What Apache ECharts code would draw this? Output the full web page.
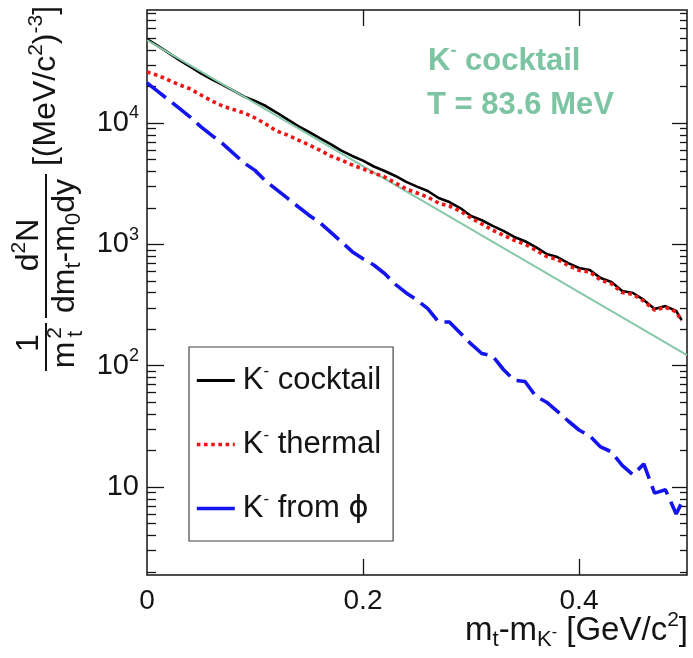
<!DOCTYPE html>
<html>
<head>
<meta charset="utf-8">
<script src="https://cdn.jsdelivr.net/npm/echarts@6/dist/echarts.min.js"></script>
<style>
  html, body { margin: 0; padding: 0; background: #fff; }
  #chart { width: 693px; height: 658px; }
</style>
</head>
<body>
<div id="chart"></div>
<script>
// m_t - m_K bin positions [GeV/c^2]
const mtBins = [
  0.00, 0.01, 0.02, 0.03, 0.04, 0.05, 0.06, 0.07, 0.08, 0.09,
  0.10, 0.11, 0.12, 0.13, 0.14, 0.15, 0.16, 0.17, 0.18, 0.19,
  0.20, 0.21, 0.22, 0.23, 0.24, 0.25, 0.26, 0.27, 0.28, 0.29,
  0.30, 0.31, 0.32, 0.33, 0.34, 0.35, 0.36, 0.37, 0.38, 0.39,
  0.40, 0.41, 0.42, 0.43, 0.44, 0.45, 0.46, 0.47, 0.48, 0.49, 0.495
];

// K- cocktail (thermal + phi feed-down)
const cocktail = [
  49200, 43200, 37800, 33000, 29200, 25600, 22900, 20600, 18500, 16500,
  15200, 13800, 12200, 10700, 9440, 8430, 7520, 6710, 5930, 5350,
  4900, 4380, 4020, 3660, 3270, 2990, 2750, 2410, 2230, 1990,
  1710, 1580, 1420, 1290, 1150, 1060, 950, 832, 785, 701,
  638, 615, 527, 489, 412, 397, 348, 293, 310, 282, 238
];

// K- thermal component
const thermal = [
  26300, 24700, 22600, 20600, 19100, 17000, 15200, 13800, 12900, 12100,
  11000, 9820, 8590, 7960, 7240, 6590, 5980, 5350, 4950, 4510,
  4180, 3870, 3590, 3200, 2860, 2650, 2450, 2190, 2070, 1880,
  1650, 1470, 1310, 1190, 1080, 1000, 897, 794, 750, 670,
  610, 592, 507, 473, 401, 387, 340, 287, 304, 277, 234
];

// K- from phi decays
const fromPhi = [
  21400, 18200, 15500, 13200, 11200, 9300, 7900, 6760, 5620, 4680,
  4070, 3310, 2820, 2400, 2040, 1740, 1510, 1260, 1050, 870,
  760, 676, 575, 468, 398, 347, 295, 229, 229, 186,
  151, 126, 120, 93, 76, 74, 56, 50, 42, 35,
  29.5, 26.3, 21.4, 19.5, 15.1, 12.6, 15.5, 8.9, 9.5, 6.0, 7.4
];

// Boltzmann fit (straight line in log scale), end points
const fitX = [0, 0.5];
const fitY = [48300, 122];

// axis ticks
const xTickLabels = [0, 0.2, 0.4];
const xMajorTicks = [0.2, 0.4];
const yDecades = [10, 100, 1000, 10000];

const X_MIN = 0, X_MAX = 0.5;
const Y_MIN = 1.883, Y_MAX = 85370;

const yMinorTicks = [];
[1, 10, 100, 1000, 10000].forEach(d => {
  for (let k = 2; k <= 9; k++) {
    const v = k * d;
    if (v >= Y_MIN && v <= Y_MAX) yMinorTicks.push(v);
  }
});

const FONT = '"Liberation Sans", Arial, Helvetica, sans-serif';
const INK = '#141414';
const FIT_GREEN = '#86c8a8';
const TXT_GREEN = '#7cc4a2';
const RED = '#f01414';
const BLUE = '#1414f0';

const pairs = (xs, ys) => xs.map((x, i) => [x, ys[i]]);

function yAxisDef(position, ticks, len, withLabels) {
  return {
    type: 'log',
    logBase: 10,
    position: position,
    min: Y_MIN,
    max: Y_MAX,
    axisLine: { show: false },
    splitLine: { show: false },
    minorTick: { show: false },
    axisTick: {
      show: true, inside: true, length: len, customValues: ticks,
      lineStyle: { color: INK, width: 1.3 }
    },
    axisLabel: withLabels ? {
      show: true,
      customValues: yDecades,
      margin: 8,
      color: INK,
      fontFamily: FONT,
      fontSize: 29,
      formatter: v => {
        const e = Math.round(Math.log10(v));
        return e === 1 ? '{b|10}' : '{b|10}{s|' + e + '}';
      },
      rich: {
        b: { fontSize: 29, fontFamily: FONT, color: INK },
        s: { fontSize: 18, fontFamily: FONT, color: INK, padding: [0, 0, 19, 0] }
      }
    } : { show: false }
  };
}

function xAxisDef(position, withLabels) {
  return {
    type: 'value',
    position: position,
    min: X_MIN,
    max: X_MAX,
    axisLine: { show: false },
    splitLine: { show: false },
    minorTick: { show: false },
    axisTick: {
      show: true, inside: true, length: 16, customValues: xMajorTicks,
      lineStyle: { color: INK, width: 1.3 }
    },
    axisLabel: withLabels ? {
      show: true,
      customValues: xTickLabels,
      margin: 12,
      color: INK,
      fontFamily: FONT,
      fontSize: 28,
      formatter: v => (Math.round(v * 10) / 10).toString()
    } : { show: false }
  };
}

const legendText = {
  cocktail: '{t| cocktail}',
  thermal: '{t| thermal}',
  phi: '{t| from }{g|\u03D5}'
};

const option = {
  animation: false,
  backgroundColor: '#ffffff',
  grid: {
    left: 147, right: 6, top: 10, bottom: 83,
    show: true, borderColor: INK, borderWidth: 1.5, backgroundColor: 'transparent'
  },
  xAxis: [xAxisDef('bottom', true), xAxisDef('top', false)],
  yAxis: [
    yAxisDef('left', yDecades, 17, true),
    yAxisDef('left', yMinorTicks, 9, false),
    yAxisDef('right', yDecades, 15, false),
    yAxisDef('right', yMinorTicks, 7, false)
  ],
  legend: {
    orient: 'vertical',
    left: 189,
    top: 347,
    padding: [16, 12, 15, 6],
    itemWidth: 38,
    itemHeight: 20,
    itemGap: 29,
    borderColor: '#444',
    borderWidth: 1.2,
    backgroundColor: '#fff',
    itemStyle: { opacity: 0 },
    lineStyle: { width: 3.6 },
    data: [
      { name: 'cocktail', lineStyle: { width: 3 } },
      { name: 'thermal' },
      { name: 'phi', lineStyle: { type: 'solid' } }
    ],
    formatter: n => '{k|K}{m|-}' + legendText[n],
    textStyle: {
      color: INK,
      fontFamily: FONT,
      fontSize: 31,
      padding: [0, 0, 0, 3],
      rich: {
        k: { fontSize: 31, fontFamily: FONT, color: INK, lineHeight: 34 },
        m: { fontSize: 17, fontFamily: FONT, color: INK, lineHeight: 16, padding: [0, 0, 18, 0] },
        t: { fontSize: 31, fontFamily: FONT, color: INK, lineHeight: 34 },
        g: { fontSize: 31, fontFamily: '"DejaVu Sans", ' + FONT, color: INK, lineHeight: 34 }
      }
    }
  },
  series: [
    {
      name: 'cocktail', type: 'line', data: pairs(mtBins, cocktail),
      symbol: 'none', z: 2, silent: true,
      itemStyle: { color: '#000000' },
      lineStyle: { color: '#000000', width: 2.6 }
    },
    {
      name: 'fit', type: 'line', data: pairs(fitX, fitY),
      symbol: 'none', z: 3, silent: true,
      itemStyle: { color: FIT_GREEN },
      lineStyle: { color: FIT_GREEN, width: 2 }
    },
    {
      name: 'thermal', type: 'line', data: pairs(mtBins, thermal),
      symbol: 'none', z: 4, silent: true,
      itemStyle: { color: RED },
      lineStyle: { color: RED, width: 3.6, type: [3.6, 3.6], cap: 'butt' }
    },
    {
      name: 'phi', type: 'line', data: pairs(mtBins, fromPhi),
      symbol: 'none', z: 5, silent: true,
      itemStyle: { color: BLUE },
      lineStyle: { color: BLUE, width: 3.6, type: [24, 8], cap: 'butt' }
    }
  ],
  graphic: [
    // fit annotation
    {
      type: 'text', left: 428, top: 42, z: 10,
      style: {
        text: '{k|K}{m|-}{k| cocktail}',
        rich: {
          k: { fontSize: 31, fontWeight: 'bold', fontFamily: FONT, fill: TXT_GREEN, lineHeight: 36 },
          m: { fontSize: 18, fontWeight: 'bold', fontFamily: FONT, fill: TXT_GREEN, lineHeight: 16, padding: [0, 0, 20, 0] }
        }
      }
    },
    {
      type: 'text', left: 427, top: 90, z: 10,
      style: {
        text: 'T = 83.6 MeV',
        font: 'bold 31px ' + FONT,
        fill: TXT_GREEN
      }
    },
    // x axis title
    {
      type: 'text', right: 5, top: 610, z: 10,
      style: {
        text: '{a|m}{b|t}{a|-m}{b|K}{c|-}{a| [GeV/c}{s|2}{a|]}',
        rich: {
          a: { fontSize: 33, fontFamily: FONT, fill: INK, lineHeight: 38 },
          b: { fontSize: 22, fontFamily: FONT, fill: INK, lineHeight: 22, padding: [18, 0, 0, 0] },
          c: { fontSize: 16, fontFamily: FONT, fill: INK, lineHeight: 16, padding: [4, 0, 0, 0] },
          s: { fontSize: 21, fontFamily: FONT, fill: INK, lineHeight: 21, padding: [0, 0, 20, 0] }
        }
      }
    },
    // y axis title, drawn in a rotated frame (local x runs upward, local y runs right)
    {
      type: 'group', x: 0, y: 658, rotation: Math.PI / 2, z: 10,
      children: [
        {
          type: 'text', x: 572, y: 46,
          style: {
            text: '{a|[(MeV/c}{s|2}{a|)}{s|-3}{a|]}',
            align: 'center', verticalAlign: 'middle',
            rich: {
              a: { fontSize: 32, fontFamily: FONT, fill: INK, lineHeight: 36 },
              s: { fontSize: 21, fontFamily: FONT, fill: INK, lineHeight: 21, padding: [0, 0, 20, 0] }
            }
          }
        },
        {
          type: 'text', x: 413, y: 29,
          style: {
            text: '{a|d}{s|2}{a|N}',
            align: 'center', verticalAlign: 'middle',
            rich: {
              a: { fontSize: 32, fontFamily: FONT, fill: INK, lineHeight: 36 },
              s: { fontSize: 21, fontFamily: FONT, fill: INK, lineHeight: 21, padding: [0, 0, 20, 0] }
            }
          }
        },
        {
          type: 'line', shape: { x1: 340, y1: 46, x2: 484, y2: 46 },
          style: { stroke: INK, lineWidth: 2 }
        },
        {
          type: 'text', x: 412, y: 65,
          style: {
            text: '{a|dm}{b|t}{a|-m}{b|0}{a|dy}',
            align: 'center', verticalAlign: 'middle',
            rich: {
              a: { fontSize: 32, fontFamily: FONT, fill: INK, lineHeight: 36 },
              b: { fontSize: 22, fontFamily: FONT, fill: INK, lineHeight: 22, padding: [18, 0, 0, 0] }
            }
          }
        },
        {
          type: 'text', x: 315, y: 29,
          style: { text: '1', font: '32px ' + FONT, fill: INK, align: 'center', verticalAlign: 'middle' }
        },
        {
          type: 'line', shape: { x1: 287, y1: 46, x2: 335, y2: 46 },
          style: { stroke: INK, lineWidth: 2 }
        },
        {
          type: 'text', x: 303, y: 65,
          style: { text: 'm', font: '32px ' + FONT, fill: INK, align: 'center', verticalAlign: 'middle' }
        },
        {
          type: 'text', x: 325, y: 55,
          style: { text: '2', font: '21px ' + FONT, fill: INK, align: 'center', verticalAlign: 'middle' }
        },
        {
          type: 'text', x: 324, y: 76,
          style: { text: 't', font: '22px ' + FONT, fill: INK, align: 'center', verticalAlign: 'middle' }
        }
      ]
    }
  ]
};

const chart = echarts.init(document.getElementById('chart'));
chart.setOption(option);
</script>
</body>
</html>
